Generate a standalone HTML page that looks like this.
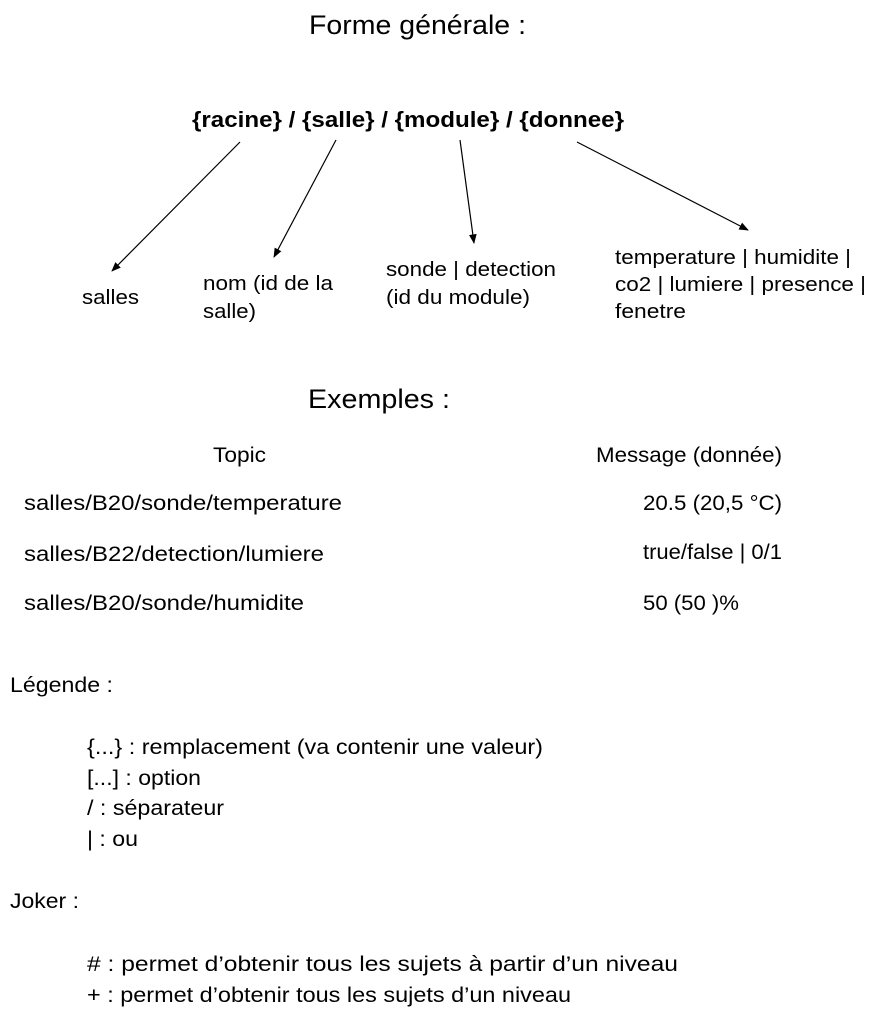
<!DOCTYPE html>
<html><head><meta charset="utf-8"><style>
html,body{margin:0;padding:0;background:#fff;}
svg{display:block;}
text{font-family:"Liberation Sans",Arial,sans-serif;fill:#000;}
</style></head><body>
<svg width="876" height="1015" viewBox="0 0 876 1015" xmlns="http://www.w3.org/2000/svg">
<defs><marker id="a" viewBox="0 0 10 10" refX="9" refY="5" markerWidth="8" markerHeight="8" orient="auto"><path d="M0,1 L10,5 L0,9 z" fill="#000"/></marker></defs>
<g lengthAdjust="spacingAndGlyphs">
<text x="309" y="34" font-size="27" textLength="217" lengthAdjust="spacingAndGlyphs">Forme générale :</text>
<text x="192" y="127" font-size="22" font-weight="bold" textLength="432" lengthAdjust="spacingAndGlyphs">{racine} / {salle} / {module} / {donnee}</text>
</g>
<g stroke="#000" stroke-width="1.2" marker-end="url(#a)">
<line x1="240" y1="142" x2="112" y2="271"/>
<line x1="336" y1="140" x2="274" y2="257"/>
<line x1="460" y1="140" x2="474" y2="243"/>
<line x1="577" y1="142" x2="748" y2="230"/>
</g>
<g font-size="20.5">
<text x="82" y="304" textLength="57" lengthAdjust="spacingAndGlyphs">salles</text>
<text x="203" y="290" textLength="130" lengthAdjust="spacingAndGlyphs">nom (id de la</text>
<text x="203" y="318" textLength="53" lengthAdjust="spacingAndGlyphs">salle)</text>
<text x="386" y="276" textLength="170" lengthAdjust="spacingAndGlyphs">sonde | detection</text>
<text x="386" y="304" textLength="144" lengthAdjust="spacingAndGlyphs">(id du module)</text>
<text x="615" y="264" textLength="236" lengthAdjust="spacingAndGlyphs">temperature | humidite |</text>
<text x="615" y="291" textLength="251" lengthAdjust="spacingAndGlyphs">co2 | lumiere | presence |</text>
<text x="615" y="318" textLength="71" lengthAdjust="spacingAndGlyphs">fenetre</text>
</g>
<text x="308" y="408" font-size="27" textLength="142" lengthAdjust="spacingAndGlyphs">Exemples :</text>
<g font-size="21">
<text x="213" y="462" textLength="53" lengthAdjust="spacingAndGlyphs">Topic</text>
<text x="596" y="462" textLength="186" lengthAdjust="spacingAndGlyphs">Message (donnée)</text>
<text x="24" y="510" textLength="318" lengthAdjust="spacingAndGlyphs">salles/B20/sonde/temperature</text>
<text x="643" y="510" textLength="139" lengthAdjust="spacingAndGlyphs">20.5 (20,5 °C)</text>
<text x="24" y="561" textLength="300" lengthAdjust="spacingAndGlyphs">salles/B22/detection/lumiere</text>
<text x="643" y="559" textLength="139" lengthAdjust="spacingAndGlyphs">true/false | 0/1</text>
<text x="24" y="610" textLength="280" lengthAdjust="spacingAndGlyphs">salles/B20/sonde/humidite</text>
<text x="643" y="610" textLength="96" lengthAdjust="spacingAndGlyphs">50 (50 )%</text>
<text x="10" y="692" textLength="103" lengthAdjust="spacingAndGlyphs">Légende :</text>
<text x="87" y="754" textLength="456" lengthAdjust="spacingAndGlyphs">{...} : remplacement (va contenir une valeur)</text>
<text x="87" y="785" textLength="114" lengthAdjust="spacingAndGlyphs">[...] : option</text>
<text x="87" y="815" textLength="137" lengthAdjust="spacingAndGlyphs">/ : séparateur</text>
<text x="87" y="846" textLength="51" lengthAdjust="spacingAndGlyphs">| : ou</text>
<text x="10" y="908" textLength="69" lengthAdjust="spacingAndGlyphs">Joker :</text>
<text x="87" y="971" textLength="591" lengthAdjust="spacingAndGlyphs"># : permet d’obtenir tous les sujets à partir d’un niveau</text>
<text x="87" y="1002" textLength="484" lengthAdjust="spacingAndGlyphs">+ : permet d’obtenir tous les sujets d’un niveau</text>
</g>
</svg>
</body></html>
